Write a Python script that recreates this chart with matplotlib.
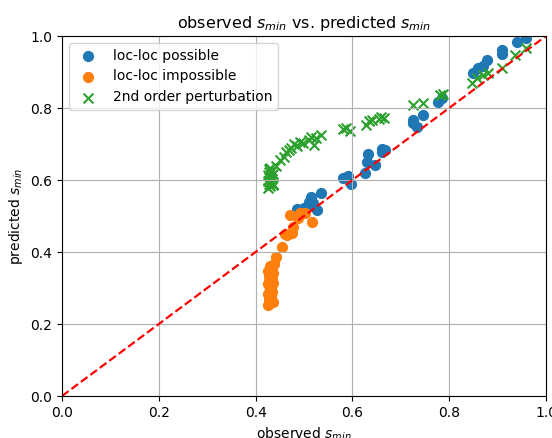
import numpy as np
import matplotlib.pyplot as plt

# loc-loc possible
poss_obs = [0.486, 0.500, 0.506, 0.515, 0.519, 0.527, 0.535, 0.510,
            0.580, 0.590, 0.597, 0.626, 0.630, 0.632, 0.647, 0.661, 0.662, 0.667,
            0.725, 0.726, 0.733, 0.746, 0.777, 0.785,
            0.849, 0.860, 0.870, 0.878, 0.909, 0.909, 0.940, 0.959]
poss_pred = [0.519, 0.522, 0.525, 0.553, 0.536, 0.517, 0.564, 0.540,
             0.605, 0.611, 0.589, 0.619, 0.650, 0.672, 0.642, 0.686, 0.678, 0.683,
             0.767, 0.758, 0.747, 0.780, 0.817, 0.828,
             0.897, 0.910, 0.918, 0.933, 0.950, 0.960, 0.982, 0.994]

# loc-loc impossible
imp_obs = [0.425, 0.430, 0.435, 0.428, 0.432, 0.426, 0.434, 0.429, 0.431, 0.425,
           0.435, 0.428, 0.433, 0.427, 0.430, 0.436, 0.426, 0.431, 0.434, 0.429,
           0.432, 0.437, 0.443, 0.455, 0.465, 0.477, 0.475, 0.471, 0.488, 0.492,
           0.502, 0.517, 0.460]
imp_pred = [0.253, 0.258, 0.262, 0.270, 0.276, 0.283, 0.289, 0.296, 0.302, 0.310,
            0.315, 0.320, 0.326, 0.332, 0.338, 0.343, 0.348, 0.352, 0.356, 0.360,
            0.305, 0.368, 0.385, 0.414, 0.447, 0.470, 0.453, 0.503, 0.494, 0.508,
            0.508, 0.484, 0.450]

# 2nd order perturbation
pert_obs = [0.425, 0.430, 0.435, 0.428, 0.432, 0.426, 0.434, 0.429, 0.431, 0.425,
            0.435, 0.428, 0.433, 0.427, 0.430, 0.436,
            0.442, 0.450, 0.458, 0.463, 0.468, 0.474, 0.480, 0.486, 0.492,
            0.498, 0.510, 0.515, 0.520, 0.525, 0.535,
            0.580, 0.586, 0.595, 0.628, 0.635, 0.640, 0.655, 0.660, 0.665,
            0.725, 0.746, 0.781, 0.787, 0.847, 0.857, 0.870, 0.880,
            0.909, 0.936, 0.959]
pert_pred = [0.578, 0.582, 0.586, 0.590, 0.594, 0.598, 0.602, 0.606, 0.610, 0.614,
             0.618, 0.622, 0.626, 0.630, 0.634, 0.588,
             0.640, 0.655, 0.665, 0.678, 0.684, 0.690, 0.700, 0.695, 0.705,
             0.702, 0.712, 0.720, 0.698, 0.718, 0.725,
             0.742, 0.745, 0.737, 0.752, 0.765, 0.768, 0.770, 0.776, 0.772,
             0.808, 0.814, 0.836, 0.839, 0.869, 0.883, 0.892, 0.897,
             0.911, 0.947, 0.967]

plt.rcParams['font.size'] = 10
plt.rcParams['axes.titlesize'] = 11.5

fig = plt.figure(figsize=(5.52, 4.38), dpi=100)
ax = fig.add_axes([62 / 552, 42 / 438, 484 / 552, 360 / 438])

ax.scatter(poss_obs, poss_pred, s=50, label='loc-loc possible')
ax.scatter(imp_obs, imp_pred, s=50, label='loc-loc impossible')
ax.scatter(pert_obs, pert_pred, s=50, marker='x', label='2nd order perturbation')
ax.plot([0, 1], [0, 1], 'r--', lw=1.6)

ax.set_xlim(0, 1)
ax.set_ylim(0, 1)
ax.grid(True)
ax.set_title('observed $s_{min}$ vs. predicted $s_{min}$')
ax.set_xlabel('observed $s_{min}$')
ax.set_ylabel('predicted $s_{min}$')
ax.legend(loc='upper left')

fig.savefig('out.png')
